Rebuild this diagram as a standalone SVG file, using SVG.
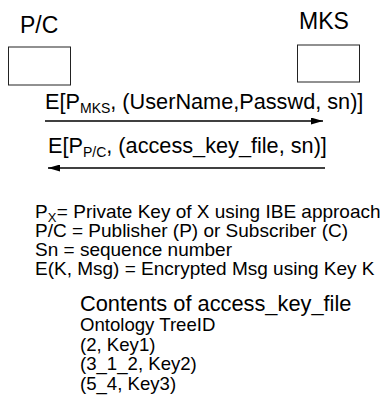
<svg xmlns="http://www.w3.org/2000/svg" width="381" height="412" viewBox="0 0 381 412">
<defs>
<marker id="ah" markerWidth="12" markerHeight="7" refX="12" refY="3.5" orient="auto" markerUnits="userSpaceOnUse">
<path d="M0,0 L12,3.5 L0,7 Z" fill="#000"/>
</marker>
<style>
text{font-family:"Liberation Sans",Arial,sans-serif;fill:#000}
.title{font-size:23px}
.msg{font-size:21.7px}
.sub{font-size:14px}
.subl{font-size:13px}
.leg{font-size:19px}
.head{font-size:21.8px}
.cont{font-size:18.6px}
.box{fill:#fff;stroke:#222;stroke-width:1}
.conn{stroke:#000;stroke-width:1.6;fill:none}
</style>
</defs>
<rect width="381" height="412" fill="#fff"/>
<g id="node-pc">
<text class="title" x="20" y="33">P/C</text>
<rect class="box" x="8.5" y="47" width="62" height="38"/>
</g>
<g id="node-mks">
<text class="title" x="299" y="29">MKS</text>
<rect class="box" x="297.5" y="45" width="62" height="37"/>
</g>
<g id="connectors">
<line class="conn" x1="45" y1="121" x2="323" y2="121" marker-end="url(#ah)"/>
<text class="msg" x="45" y="109">E[P<tspan class="sub" dy="4">MKS</tspan><tspan dy="-4">, (UserName,Passwd, sn)]</tspan></text>
<line class="conn" x1="325" y1="168" x2="48" y2="168" marker-end="url(#ah)"/>
<text class="msg" x="48" y="153">E[P<tspan class="sub" dy="4">P/C</tspan><tspan dy="-4">, (access_key_file, sn)]</tspan></text>
</g>
<g id="legend">
<text class="leg" x="35" y="218">P<tspan class="subl" dy="4">X</tspan><tspan dx="0.5" dy="-4">= Private Key of X using IBE approach</tspan></text>
<text class="leg" x="35" y="237">P/C = Publisher (P) or Subscriber (C)</text>
<text class="leg" x="35" y="256">Sn = sequence number</text>
<text class="leg" x="35" y="275">E(K, Msg) = Encrypted Msg using Key K</text>
</g>
<g id="contents">
<text class="head" x="80" y="311">Contents of access_key_file</text>
<text class="cont" x="80" y="331">Ontology TreeID</text>
<text class="cont" x="80" y="350.5">(2, Key1)</text>
<text class="cont" x="80" y="370">(3_1_2, Key2)</text>
<text class="cont" x="80" y="389.5">(5_4, Key3)</text>
</g>
</svg>
